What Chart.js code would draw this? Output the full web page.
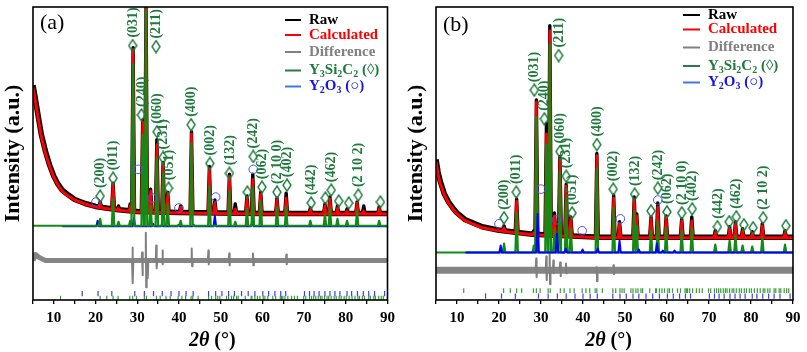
<!DOCTYPE html>
<html><head><meta charset="utf-8">
<script src="https://cdn.jsdelivr.net/npm/chart.js@4.4.1/dist/chart.umd.min.js"></script>
<style>
html,body{margin:0;padding:0;background:#fff;}
#wrap{position:relative;width:807px;height:352px;overflow:hidden;background:#fff;}
#ca{position:absolute;left:0;top:0;width:400px;height:352px;}
#cb{position:absolute;left:400px;top:0;width:407px;height:352px;}
</style></head><body>
<div id="wrap"><canvas id="ca" width="400" height="352"></canvas><canvas id="cb" width="407" height="352"></canvas></div>
<script>
// ---------- shared data ----------
const xTickLabels = [10, 20, 30, 40, 50, 60, 70, 80, 90];
const legendLabels = ['Raw', 'Calculated', 'Difference', 'Y3Si2C2 (◊)', 'Y2O3 (○)'];
const hklLabels = ['(200)','(011)','(031)','(240)','(211)','(060)','(231)','(051)','(400)','(002)','(132)','(242)','(062)','(2 10 0)','(402)','(442)','(462)','(2 10 2)'];
// Bragg reflection positions (2θ)
const y2o3Bragg = [16.8,20.6,23.9,29.4,31.7,33.9,36.0,38.1,40.0,41.7,43.4,47.1,48.8,50.3,51.9,53.3,55.0,56.6,58.2,60.1,61.5,63.0,64.4,65.6,70.1,71.3,72.4,73.6,75.0,76.2,77.4,78.6,80.3,81.4,82.8,84.2,85.5,86.9,89.3];
const y3si2c2Bragg = [11.6,21.1,22.7,24.2,25.4,28.2,28.9,29.8,31.7,32.2,34.6,35.5,36.9,37.9,39.8,40.7,41.6,42.9,43.3,44.6,47.1,47.8,48.8,49.3,49.8,51.4,51.9,52.6,53.1,53.8,54.2,55.9,57.3,57.5,58.2,58.8,59.4,60.2,60.6,61.3,62.5,63.2,64.3,64.6,64.9,65.4,66.1,67.0,67.7,68.4,69.9,70.4,71.3,71.8,72.3,72.8,73.4,73.9,74.3,74.9,75.5,75.9,76.5,77.2,77.7,78.4,78.9,79.6,80.1,80.8,81.5,82.2,82.9,83.3,84.0,84.5,85.5,85.9,86.7,87.1,87.9,88.5,89.0];

// ---------- panel (a) ----------
const a_bgX    = [5, 5.5, 6, 7, 8, 9, 10, 11, 12, 13.5, 15, 17.5, 20, 25, 30, 40, 60, 90];
const a_bgCalc = [215, 203, 190, 165, 148, 135, 124, 116, 110, 105, 101, 97, 94, 91, 89, 88, 87, 87];
const a_bgRaw  = [217, 205, 192, 167, 150, 136, 125, 117, 111, 106, 101.5, 97.5, 94.5, 91.5, 89.5, 88.5, 87.5, 87.5];
const a_pkX    = [21.1, 24.2, 25.5, 28.3, 29.0, 31.3, 32.1, 33.2, 34.7, 36.2, 37.3, 40.4, 43.0, 47.3, 48.6, 52.1, 53.5, 56.3, 57.7, 59.6, 63.5, 65.7, 71.5, 75.0, 76.2, 78.0, 80.3, 82.7, 84.3, 88.0];
const a_pkBase = [94, 92, 91, 89.5, 89, 89, 89, 89, 88.5, 88.5, 88.5, 88, 88, 87.5, 87.5, 87, 87, 87, 87, 87, 87, 87, 87, 87, 87, 87, 87, 87, 87, 87];
const a_pkCalc = [98, 117, 93, 95, 253, 180, 296, 110, 157, 137, 107, 94, 168, 132, 98, 125, 92, 103, 122, 107, 101, 103, 91, 95, 102, 93, 90, 98, 90, 92];
const a_pkRaw  = [99, 118, 95, 97, 255, 182, 296, 112, 162, 139, 109, 95, 170, 135, 101, 127, 97, 105, 127, 109, 103, 108, 93, 97, 104, 95, 92, 99, 95, 94];
const a_y3Base = 75;
const a_y3X    = [21.1, 24.2, 25.5, 28.3, 29.0, 31.3, 32.1, 33.2, 34.7, 36.2, 37.3, 40.4, 43.0, 47.3, 52.1, 53.5, 56.3, 57.7, 59.6, 63.5, 65.7, 71.5, 75.0, 76.2, 78.0, 80.3, 82.7, 88.0];
const a_y3Top  = [82, 102, 79, 80, 238, 167, 293, 95, 143, 127, 97, 80, 158, 115, 110, 79, 92, 113, 100, 93, 94, 80, 86, 93, 82, 80, 90, 80];
const a_y2Base = 74.5;
const a_y2X    = [20.5, 29.2, 33.8, 35.9, 39.9, 43.5, 48.6, 57.6];
const a_y2Top  = [80, 83, 77, 76, 76, 76, 85, 80];
const a_diffX  = [5, 5.6, 6.5, 8, 90];
const a_diffY  = [40, 46, 43, 40, 40];
const a_diffBase = 40;
const a_dsX    = [28.9, 31.2, 32.1, 32.5, 34.6, 36.1, 43.1, 47.1, 52.1, 57.8, 65.8];
const a_dsUp   = [53, 48, 68, 41, 55, 50, 52, 50, 47, 47, 46];
const a_dsDown = [17, 25, 13, 22, 32, 36, 34, 36, 35, 35, 36];
const a_dmX    = [21.1, 24.2, 28.9, 31.0, 34.5, 34.75, 36.2, 37.5, 42.9, 47.4, 52.1, 56.4, 57.8, 59.9, 63.5, 65.9, 71.7, 75.1, 76.5, 78.3, 80.7, 83.0, 88.3];
const a_dmY    = [105, 123, 257, 187, 256, 170, 144, 113, 177, 138, 128, 109, 145, 114, 109, 116, 98, 103, 111, 100, 98, 106, 99];
const a_hklX   = [21.1, 24.2, 28.9, 31.0, 34.5, 34.75, 36.2, 37.5, 42.9, 47.4, 52.1, 57.8, 59.9, 63.5, 65.9, 71.7, 76.5, 83.0];
const a_hklY   = [105, 123, 257, 187, 256, 170, 144, 113, 177, 138, 128, 145, 114, 109, 116, 98, 111, 106];
const a_ocX    = [20.1, 30.2, 33.6, 40.0, 48.8, 57.8];
const a_ocY    = [99, 132, 103, 93, 104, 132];
const a_y2o3Row = 6.5, a_y3Row = 2;

// ---------- panel (b) ----------
const b_bgX    = [5, 5.5, 6, 7, 8, 9, 10, 12, 16, 20, 28, 44, 90];
const b_bgCalc = [140, 127, 118, 106, 98, 92, 87, 80, 73, 70, 66, 63, 63];
const b_bgRaw  = [142, 129, 120, 107, 99, 93, 88, 81, 74, 70.5, 66.5, 63.5, 63.5];
const b_pkX    = [21.2, 24.2, 28.3, 28.9, 31.3, 32.1, 33.2, 34.5, 36.0, 37.1, 43.3, 47.3, 48.7, 52.2, 52.8, 56.2, 57.8, 59.8, 63.5, 65.9, 71.5, 74.9, 76.3, 78.0, 80.3, 82.7, 88.1];
const b_pkBase = [70, 68.5, 67, 67, 66.5, 66.5, 66, 65.5, 65, 65, 63, 63, 63, 63, 63, 63, 63, 63, 63, 63, 63, 63, 63, 63, 63, 63, 63];
const b_pkCalc = [73, 100, 68, 200, 168, 272, 85, 142, 115, 82, 146, 103, 77, 101, 85, 82, 94, 83, 80, 80, 68, 72, 77, 70, 67, 75, 68];
const b_pkRaw  = [75, 102, 70, 202, 178, 277, 88, 145, 117, 84, 148, 106, 79, 104, 87, 84, 98, 85, 82, 84, 70, 74, 79, 72, 69, 77, 70];
const b_y3Base = 48;
const b_y3X    = [21.2, 24.2, 28.3, 28.9, 31.3, 32.1, 33.2, 34.5, 36.0, 37.1, 43.3, 47.3, 52.2, 52.8, 56.2, 57.8, 59.8, 63.5, 65.9, 71.5, 74.9, 76.3, 78.0, 80.3, 82.7, 88.1];
const b_y3Top  = [57, 88, 55, 185, 157, 258, 72, 130, 103, 72, 133, 93, 90, 75, 70, 80, 73, 70, 73, 56, 60, 65, 55, 54, 63, 56];
const b_y2Base = 48;
const b_y2X    = [20.4, 29.2, 33.8, 35.9, 39.9, 43.5, 48.7, 53.3, 57.6, 59.0, 61.8];
const b_y2Top  = [55, 87, 67, 52, 51, 52, 60, 51, 57, 50, 50];
const b_diffX  = [5, 90];
const b_diffY  = [30, 30];
const b_diffBase = 30;
const b_dsX    = [28.9, 31.3, 32.1, 33.0, 34.6, 36.0, 43.3, 47.3];
const b_dsUp   = [42, 44, 47, 40, 38, 37, 33, 35];
const b_dsDown = [23, 20, 16, 27, 24, 27, 19, 26];
const b_dmX    = [21.2, 24.1, 28.4, 30.8, 34.2, 34.5, 36.0, 37.4, 43.3, 47.2, 52.3, 56.2, 57.8, 60.0, 63.5, 66.0, 72.0, 74.8, 76.5, 78.3, 80.5, 82.9, 88.3];
const b_dmY    = [83, 109, 212, 183, 247, 150, 125, 88, 157, 112, 107, 90, 113, 89, 88, 92, 74, 79, 84, 76, 73, 83, 75];
const b_hklX   = [21.2, 24.1, 28.4, 30.8, 34.2, 34.5, 36.0, 37.4, 43.3, 47.2, 52.3, 57.8, 60.0, 63.5, 66.0, 72.0, 76.5, 82.9];
const b_hklY   = [83, 109, 212, 183, 247, 150, 125, 88, 157, 112, 107, 113, 89, 88, 92, 74, 84, 83];
const b_ocX    = [20.0, 30.0, 33.7, 39.8, 48.9, 57.8];
const b_ocY    = [77, 112, 81, 70, 82, 101];
const b_y2o3Row = 4, b_y3Row = 9.5;

// ---------- helpers ----------
const FONT = '"Liberation Serif", "Times New Roman", serif';
const C_GREEN = '#128a14', C_GREEN_TXT = '#1e7b3e', C_BLUE = '#0000ff';
function zip(xs, ys) { return xs.map((x, i) => ({x: x, y: ys[i]})); }
function row(xs, level) { return xs.map(x => ({x: x, y: level})); }
function peakSegments(xs, bases, tops, hw) {
  const pts = [];
  xs.forEach((x, i) => { pts.push({x: x - hw, y: bases[i]}, {x: x, y: tops[i]}, {x: x + hw, y: bases[i]}, {x: x + hw + 0.01, y: null}); });
  return pts;
}
function diffSpikes(xs, base, ups, downs) {
  const pts = [];
  xs.forEach((x, i) => {
    pts.push({x: x - 0.16, y: base}, {x: x - 0.05, y: ups[i]}, {x: x + 0.05, y: downs[i]}, {x: x + 0.16, y: base}, {x: x + 0.17, y: null});
  });
  return pts;
}
function component(x0, x1, base, xs, tops, hw) {
  const pts = [{x: x0, y: base}];
  xs.forEach((x, i) => { pts.push({x: x - hw, y: base}, {x: x, y: tops[i]}, {x: x + hw, y: base}); });
  pts.push({x: x1, y: base});
  return pts;
}
function makeDiamond(color) {
  const c = document.createElement('canvas'); c.width = 10; c.height = 14;
  const g = c.getContext('2d'); g.strokeStyle = color; g.lineWidth = 1.4;
  g.beginPath(); g.moveTo(5, 1); g.lineTo(9, 7); g.lineTo(5, 13); g.lineTo(1, 7); g.closePath(); g.stroke();
  return c;
}
const legendParts = [
  [[legendLabels[0]]],
  [[legendLabels[1]]],
  [[legendLabels[2]]],
  [['Y'], ['3', 1], ['Si'], ['2', 1], ['C'], ['2', 1], [' (◊)']],
  [['Y'], ['2', 1], ['O'], ['3', 1], [' (○)']]
];
const legendText = ['#000000', '#ff0000', '#808080', '#1e7b3e', '#1616e0'];
const legendLine = ['#000000', '#ff0000', '#808080', '#2b7a48', '#3a7ad8'];

function buildPanel(id, P) {
  const diamond = makeDiamond(C_GREEN_TXT);
  const lineDs = (label, data, color, width, order) => ({
    label: label, data: data, showLine: true, borderColor: color, backgroundColor: color,
    borderWidth: width, pointRadius: 0, order: order, spanGaps: false, borderJoinStyle: 'round', borderCapStyle: 'butt'
  });
  const datasets = [
    {label: 'hkl markers', data: zip(P.dmX, P.dmY), pointStyle: diamond, pointRadius: 6, order: 0},
    {label: 'Y2O3 markers', data: zip(P.ocX, P.ocY), pointStyle: 'circle', pointRadius: 4.3,
      pointBorderColor: '#5050ff', pointBackgroundColor: 'rgba(255,255,255,0)', pointBorderWidth: 1, order: 1},
    {label: 'Y2O3 Bragg', data: row(y2o3Bragg, P.y2o3Row), pointStyle: 'line', rotation: 90, pointRadius: 2.6,
      pointBorderColor: '#3c3cff', pointBorderWidth: 1.2, order: 2},
    {label: 'Y3Si2C2 Bragg', data: row(y3si2c2Bragg, P.y3Row), pointStyle: 'line', rotation: 90, pointRadius: 2.3,
      pointBorderColor: '#35a035', pointBorderWidth: 1.2, order: 3},
    lineDs('Y3Si2C2', component(5, 90, P.y3Base, P.y3X, P.y3Top, 0.3), C_GREEN, 2.2, P.greenOrder),
    lineDs('Y2O3', component(12, 90, P.y2Base, P.y2X, P.y2Top, 0.3), C_BLUE, 2, P.blueOrder),
    lineDs('Calculated peaks', peakSegments(P.pkX, P.pkBase, P.pkCalc, 0.32), '#ff0000', 2.6, 6),
    lineDs('Calculated', zip(P.bgX, P.bgCalc), '#ff0000', 3, 7),
    lineDs('Raw peaks', peakSegments(P.pkX, P.pkBase, P.pkRaw, 0.34), '#000000', 3.4, 8),
    lineDs('Raw', zip(P.bgX, P.bgRaw), '#000000', 5.5, 9),
    lineDs('Difference spikes', diffSpikes(P.dsX, P.diffBase, P.dsUp, P.dsDown), '#808080', 2, 10),
    lineDs('Difference', zip(P.diffX, P.diffY), '#858585', P.diffWidth, 11)
  ];
  const decor = {
    id: 'decor' + id,
    afterDatasetsDraw(chart) {
      const ctx = chart.ctx, xs = chart.scales.x, ys = chart.scales.y;
      ctx.save();
      ctx.fillStyle = C_GREEN_TXT;
      ctx.font = 'bold 14px ' + FONT;
      ctx.textAlign = 'left'; ctx.textBaseline = 'middle';
      hklLabels.forEach((t, i) => {
        const px = xs.getPixelForValue(P.hklX[i]), py = ys.getPixelForValue(P.hklY[i]);
        ctx.save(); ctx.translate(px + 0.5, py - 8); ctx.rotate(-Math.PI / 2); ctx.fillText(t, 0, 0); ctx.restore();
      });
      ctx.restore();
    },
    afterDraw(chart) {
      const ctx = chart.ctx, a = chart.chartArea;
      ctx.save();
      ctx.strokeStyle = '#000'; ctx.lineWidth = 1.6;
      ctx.strokeRect(a.left, a.top, a.right - a.left, a.bottom - a.top);
      ctx.fillStyle = '#000'; ctx.font = '22px ' + FONT; ctx.textAlign = 'left'; ctx.textBaseline = 'middle';
      ctx.fillText(P.letter, P.letterX, P.letterY);
      const f1 = 'italic bold 20px ' + FONT, f2 = 'bold 20px ' + FONT;
      ctx.font = f1; const w1 = ctx.measureText('2θ').width;
      ctx.font = f2; const w2 = ctx.measureText(' (°)').width;
      const x0 = (a.left + a.right) / 2 + P.titleShift - (w1 + w2) / 2;
      ctx.font = f1; ctx.fillText('2θ', x0, 341);
      ctx.font = f2; ctx.fillText(' (°)', x0 + w1, 341);
      legendParts.forEach((parts, r) => {
        const y = P.legRows[r];
        ctx.strokeStyle = legendLine[r]; ctx.lineWidth = 2;
        ctx.beginPath(); ctx.moveTo(P.legL0, y); ctx.lineTo(P.legL1, y); ctx.stroke();
        ctx.fillStyle = legendText[r];
        let x = P.legT;
        parts.forEach(p => {
          ctx.font = p[1] ? 'bold 10px ' + FONT : 'bold 15px ' + FONT;
          ctx.fillText(p[0], x, p[1] ? y + 4 : y);
          x += ctx.measureText(p[0]).width;
        });
      });
      ctx.restore();
    }
  };
  return new Chart(document.getElementById(id), {
    type: 'scatter',
    data: {datasets: datasets},
    plugins: [decor],
    options: {
      responsive: false, animation: false, events: [],
      layout: {padding: {left: 0, right: P.padRight, top: 4, bottom: 0}},
      plugins: {legend: {display: false}, tooltip: {enabled: false}},
      scales: {
        x: {
          type: 'linear', min: 5, max: 90,
          afterFit: s => { s.height = 52; },
          ticks: {stepSize: 5, autoSkip: false, maxRotation: 0, padding: 5, color: '#000',
            font: {family: FONT, size: 15, weight: 'bold'},
            callback: v => (xTickLabels.indexOf(v) >= 0 ? String(v) : '')},
          grid: {display: true, drawOnChartArea: false, drawTicks: true, tickLength: 4, color: '#000', lineWidth: 1.3},
          border: {display: false}
        },
        y: {
          min: 0, max: 296,
          afterFit: s => { s.width = P.yWidth; },
          ticks: {display: false}, grid: {display: false}, border: {display: false},
          title: {display: true, text: 'Intensity (a.u.)', color: '#000', font: {family: FONT, size: 22, weight: 'bold'},
            padding: {top: P.yTitlePad, bottom: 0}}
        }
      }
    }
  });
}

buildPanel('ca', {
  bgX: a_bgX, bgCalc: a_bgCalc, bgRaw: a_bgRaw, pkX: a_pkX, pkBase: a_pkBase, pkCalc: a_pkCalc, pkRaw: a_pkRaw,
  y3Base: a_y3Base, y3X: a_y3X, y3Top: a_y3Top, y2Base: a_y2Base, y2X: a_y2X, y2Top: a_y2Top,
  diffX: a_diffX, diffY: a_diffY, diffBase: a_diffBase, dsX: a_dsX, dsUp: a_dsUp, dsDown: a_dsDown, diffWidth: 5,
  dmX: a_dmX, dmY: a_dmY, hklX: a_hklX, hklY: a_hklY,
  ocX: a_ocX, ocY: a_ocY, y2o3Row: a_y2o3Row, y3Row: a_y3Row, greenOrder: 4, blueOrder: 5,
  letter: '(a)', letterX: 40, letterY: 23, titleShift: 2, padRight: 9, yWidth: 33, yTitlePad: 0,
  legRows: [20, 35, 52, 70.5, 86.5], legL0: 285, legL1: 301, legT: 309
});
buildPanel('cb', {
  bgX: b_bgX, bgCalc: b_bgCalc, bgRaw: b_bgRaw, pkX: b_pkX, pkBase: b_pkBase, pkCalc: b_pkCalc, pkRaw: b_pkRaw,
  y3Base: b_y3Base, y3X: b_y3X, y3Top: b_y3Top, y2Base: b_y2Base, y2X: b_y2X, y2Top: b_y2Top,
  diffX: b_diffX, diffY: b_diffY, diffBase: b_diffBase, dsX: b_dsX, dsUp: b_dsUp, dsDown: b_dsDown, diffWidth: 7,
  dmX: b_dmX, dmY: b_dmY, hklX: b_hklX, hklY: b_hklY,
  ocX: b_ocX, ocY: b_ocY, y2o3Row: b_y2o3Row, y3Row: b_y3Row, greenOrder: 5, blueOrder: 4,
  letter: '(b)', letterX: 43, letterY: 25, titleShift: -6, padRight: 14, yWidth: 36, yTitlePad: 3,
  legRows: [15, 29.5, 47.5, 66, 82.5], legL0: 283, legL1: 300, legT: 308
});
</script>
</body></html>
